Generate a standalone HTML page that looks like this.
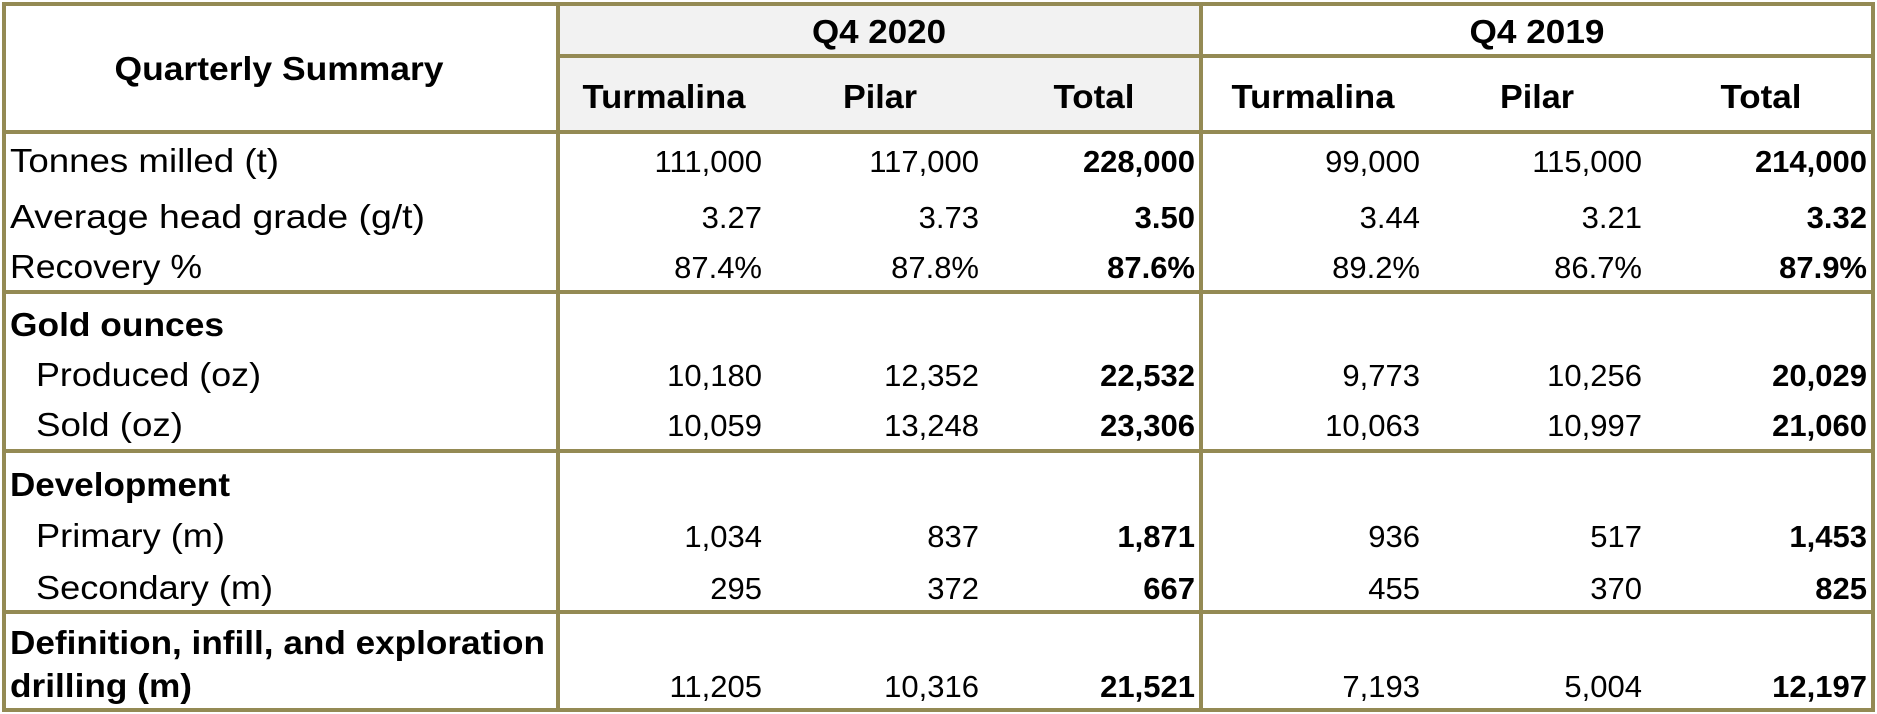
<!DOCTYPE html>
<html><head><meta charset="utf-8"><style>
html,body{margin:0;padding:0;background:#fff;}
svg{display:block;font-family:"Liberation Sans",Arial,sans-serif;}
</style></head><body>
<svg width="1877" height="714" viewBox="0 0 1877 714">
<rect x="558" y="4" width="643" height="128" fill="#f2f2f2"/>
<g stroke="#948a54" stroke-width="4" fill="none">
<rect x="4" y="4" width="1869" height="706"/>
<line x1="558" y1="4" x2="558" y2="710"/>
<line x1="1201" y1="4" x2="1201" y2="710"/>
<line x1="558" y1="56" x2="1873" y2="56"/>
<line x1="4" y1="132" x2="1873" y2="132"/>
<line x1="4" y1="292" x2="1873" y2="292"/>
<line x1="4" y1="451" x2="1873" y2="451"/>
<line x1="4" y1="612" x2="1873" y2="612"/>
</g>
<g font-size="33" font-weight="bold" fill="#000" text-anchor="middle" lengthAdjust="spacingAndGlyphs">
<text x="279" y="80" textLength="329" lengthAdjust="spacingAndGlyphs">Quarterly Summary</text>
<text x="879" y="43" textLength="134" lengthAdjust="spacingAndGlyphs">Q4 2020</text>
<text x="1537" y="43" textLength="135" lengthAdjust="spacingAndGlyphs">Q4 2019</text>
<text x="664" y="108" textLength="163" lengthAdjust="spacingAndGlyphs">Turmalina</text>
<text x="880" y="108" textLength="74" lengthAdjust="spacingAndGlyphs">Pilar</text>
<text x="1094" y="108" textLength="81" lengthAdjust="spacingAndGlyphs">Total</text>
<text x="1313" y="108" textLength="163" lengthAdjust="spacingAndGlyphs">Turmalina</text>
<text x="1537" y="108" textLength="74" lengthAdjust="spacingAndGlyphs">Pilar</text>
<text x="1761" y="108" textLength="81" lengthAdjust="spacingAndGlyphs">Total</text>
</g>
<g font-size="33" fill="#000">
<text x="10" y="172" textLength="269" lengthAdjust="spacingAndGlyphs">Tonnes milled (t)</text>
<text x="10" y="228" textLength="415" lengthAdjust="spacingAndGlyphs">Average head grade (g/t)</text>
<text x="10" y="278" textLength="192" lengthAdjust="spacingAndGlyphs">Recovery %</text>
<text x="10" y="336" font-weight="bold" textLength="214" lengthAdjust="spacingAndGlyphs">Gold ounces</text>
<text x="36" y="386" textLength="225" lengthAdjust="spacingAndGlyphs">Produced (oz)</text>
<text x="36" y="436" textLength="147" lengthAdjust="spacingAndGlyphs">Sold (oz)</text>
<text x="10" y="496" font-weight="bold" textLength="220" lengthAdjust="spacingAndGlyphs">Development</text>
<text x="36" y="547" textLength="189" lengthAdjust="spacingAndGlyphs">Primary (m)</text>
<text x="36" y="599" textLength="237" lengthAdjust="spacingAndGlyphs">Secondary (m)</text>
<text x="10" y="654" font-weight="bold" textLength="535" lengthAdjust="spacingAndGlyphs">Definition, infill, and exploration</text>
<text x="10" y="697" font-weight="bold" textLength="182" lengthAdjust="spacingAndGlyphs">drilling (m)</text>
</g>
<g id="vals" font-size="31" fill="#000" text-anchor="end"></g>
</svg>
<script>
const rowBaselines=[172,228,278,386,436,547,599,697];
const rowNames=['tonnes','grade','recovery','produced','sold','primary','secondary','drilling'];
const colRights=[762,979,1195,1420,1642,1867];
const colNames=['turmalina-2020','pilar-2020','total-2020','turmalina-2019','pilar-2019','total-2019'];
const turmalina2020=['111,000','3.27','87.4%','10,180','10,059','1,034','295','11,205'];
const pilar2020=['117,000','3.73','87.8%','12,352','13,248','837','372','10,316'];
const total2020=['228,000','3.50','87.6%','22,532','23,306','1,871','667','21,521'];
const turmalina2019=['99,000','3.44','89.2%','9,773','10,063','936','455','7,193'];
const pilar2019=['115,000','3.21','86.7%','10,256','10,997','517','370','5,004'];
const total2019=['214,000','3.32','87.9%','20,029','21,060','1,453','825','12,197'];
const cols=[turmalina2020,pilar2020,total2020,turmalina2019,pilar2019,total2019];
const g=document.getElementById('vals');
cols.forEach((col,c)=>{col.forEach((v,r)=>{
const t=document.createElementNS('http://www.w3.org/2000/svg','text');
t.setAttribute('x',colRights[c]);t.setAttribute('y',rowBaselines[r]);
if(c===2||c===5)t.setAttribute('font-weight','bold');
t.textContent=v;


g.appendChild(t);});});
</script>
</body></html>
